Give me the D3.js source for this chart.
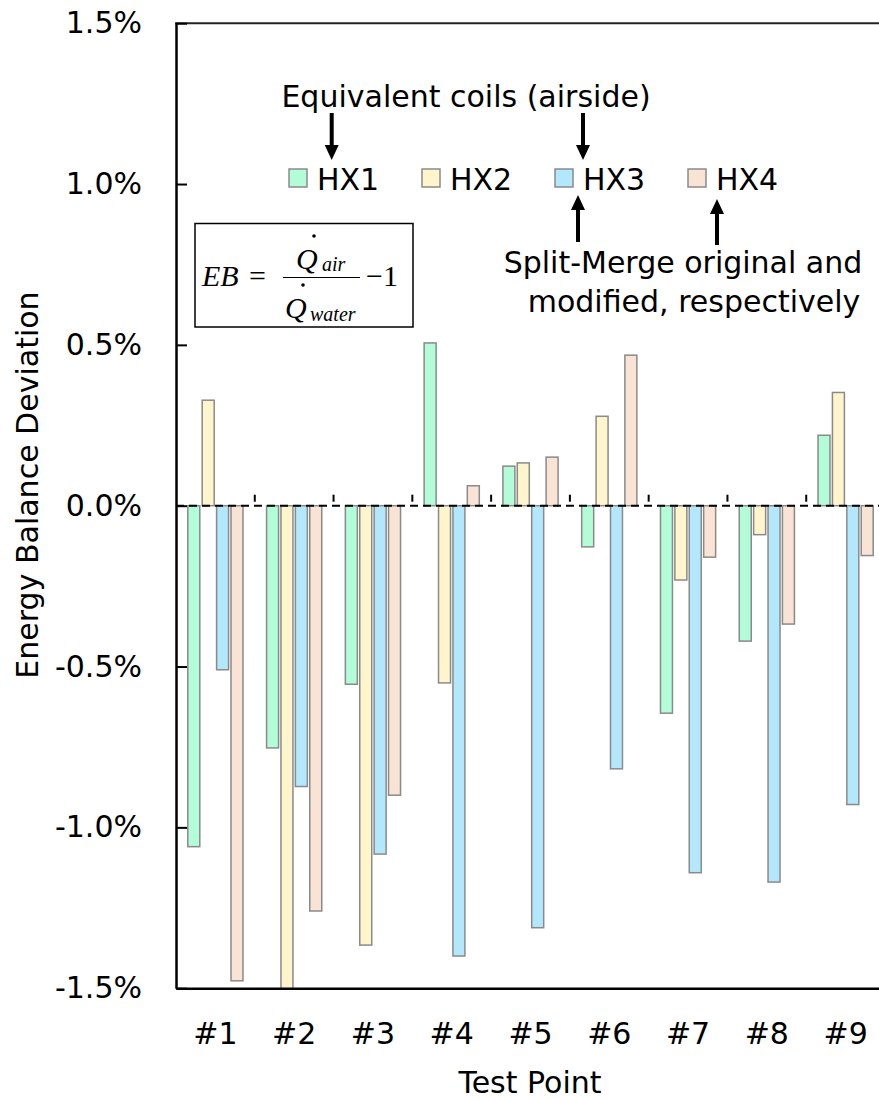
<!DOCTYPE html>
<html>
<head>
<meta charset="utf-8">
<script src="https://cdn.jsdelivr.net/npm/d3@7"></script>
<style>
  body { margin: 0; background: #fff; }
  svg text { fill: #000; }
</style>
</head>
<body>
<svg id="chart" width="879" height="1100"></svg>
<script>
// data (percent)
const testPoints = ["#1", "#2", "#3", "#4", "#5", "#6", "#7", "#8", "#9"];
const seriesNames = ["HX1", "HX2", "HX3", "HX4"];
const hx1 = [-1.060, -0.753, -0.555, 0.506, 0.123, -0.128, -0.645, -0.421, 0.219];
const hx2 = [0.328, -1.52, -1.366, -0.551, 0.133, 0.278, -0.231, -0.090, 0.352];
const hx3 = [-0.510, -0.873, -1.083, -1.400, -1.312, -0.818, -1.141, -1.170, -0.929];
const hx4 = [-1.477, -1.260, -0.900, 0.062, 0.151, 0.468, -0.160, -0.368, -0.155];
const seriesColors = ["#b3fcd8", "#fff5cc", "#b3e7fb", "#f9e3d4"];
const yTickValues = [-1.5, -1.0, -0.5, 0.0, 0.5, 1.0, 1.5];
const yTickLabels = ["-1.5%", "-1.0%", "-0.5%", "0.0%", "0.5%", "1.0%", "1.5%"];

const allSeries = [hx1, hx2, hx3, hx4];

const sans = "'DejaVu Sans', 'Open Sans', sans-serif";
const serif = "'Liberation Serif', 'DejaVu Serif', serif";
const fs = "30px";

const plot = { left: 176, right: 885, top: 23.2, bottom: 988.2 };
const svg = d3.select("#chart");

const y = d3.scaleLinear()
  .domain([-1.5, 1.5])
  .range([plot.bottom, plot.top]);

const x0 = d3.scaleBand()
  .domain(testPoints)
  .range([plot.left, plot.right])
  .paddingInner(0)
  .paddingOuter(0);

const x1 = d3.scaleBand()
  .domain(seriesNames)
  .range([0, x0.bandwidth()])
  .paddingInner(0.167)
  .paddingOuter(0.82);

// clip for the plot area
svg.append("defs").append("clipPath").attr("id", "plotClip")
  .append("rect")
  .attr("x", plot.left).attr("y", plot.top)
  .attr("width", plot.right - plot.left)
  .attr("height", plot.bottom - plot.top);

// bars
const rows = [];
testPoints.forEach((tp, i) => {
  seriesNames.forEach((s, j) => {
    rows.push({ tp: tp, s: s, v: allSeries[j][i], c: seriesColors[j] });
  });
});

svg.append("g")
  .attr("clip-path", "url(#plotClip)")
  .selectAll("rect")
  .data(rows)
  .join("rect")
  .attr("x", d => x0(d.tp) + x1(d.s))
  .attr("y", d => y(Math.max(0, d.v)))
  .attr("width", x1.bandwidth())
  .attr("height", d => Math.abs(y(d.v) - y(0)))
  .attr("fill", d => d.c)
  .attr("stroke", "#8a8a8a")
  .attr("stroke-width", 1.5);

// zero line (category axis crossing at 0)
svg.append("line")
  .attr("x1", plot.left).attr("x2", plot.right)
  .attr("y1", y(0)).attr("y2", y(0))
  .attr("stroke", "#000")
  .attr("stroke-width", 2)
  .attr("stroke-dasharray", "8,5");

svg.append("g")
  .selectAll("line")
  .data(testPoints.slice(1))
  .join("line")
  .attr("x1", d => x0(d)).attr("x2", d => x0(d))
  .attr("y1", y(0) - 11).attr("y2", y(0) - 4)
  .attr("stroke", "#000")
  .attr("stroke-width", 2);

// top border
svg.append("line")
  .attr("x1", plot.left - 1).attr("x2", plot.right)
  .attr("y1", plot.top).attr("y2", plot.top)
  .attr("stroke", "#222")
  .attr("stroke-width", 2);

// y axis
const yAxis = svg.append("g")
  .attr("transform", "translate(" + plot.left + ",0)")
  .call(d3.axisLeft(y)
    .tickValues(yTickValues)
    .tickFormat((d, i) => yTickLabels[i])
    .tickSizeInner(-11)
    .tickSizeOuter(0)
    .tickPadding(34));
yAxis.select(".domain").attr("stroke-width", 2.5);
yAxis.selectAll(".tick line").attr("stroke-width", 2);
yAxis.selectAll("text").attr("font-family", sans).style("font-size", fs);

// x axis
const xAxis = svg.append("g")
  .attr("transform", "translate(0," + plot.bottom + ")")
  .call(d3.axisBottom(x0).tickSize(0).tickPadding(35));
xAxis.select(".domain").attr("stroke-width", 2.5);
xAxis.selectAll("text").attr("font-family", sans).style("font-size", fs);

// axis titles
svg.append("text")
  .attr("x", 530).attr("y", 1093)
  .attr("text-anchor", "middle")
  .attr("font-family", sans).style("font-size", fs)
  .text("Test Point");

svg.append("text")
  .attr("transform", "translate(38,485) rotate(-90)")
  .attr("text-anchor", "middle")
  .attr("font-family", sans).style("font-size", fs)
  .text("Energy Balance Deviation");

// legend
const legendX = d3.scaleOrdinal().domain(seriesNames).range([289, 422, 555, 688]);
const legend = svg.append("g");
seriesNames.forEach((s, j) => {
  legend.append("rect")
    .attr("x", legendX(s)).attr("y", 169)
    .attr("width", 18).attr("height", 18)
    .attr("fill", seriesColors[j])
    .attr("stroke", "#8a8a8a")
    .attr("stroke-width", 1.5);
  legend.append("text")
    .attr("x", legendX(s) + 28).attr("y", 190)
    .attr("font-family", sans).style("font-size", fs)
    .text(s);
});

// annotations
svg.append("text")
  .attr("x", 466).attr("y", 107)
  .attr("text-anchor", "middle")
  .attr("font-family", sans).style("font-size", fs)
  .text("Equivalent coils (airside)");

svg.append("text")
  .attr("x", 683).attr("y", 273)
  .attr("text-anchor", "middle")
  .attr("font-family", sans).style("font-size", fs)
  .text("Split-Merge original and");

svg.append("text")
  .attr("x", 694).attr("y", 312)
  .attr("text-anchor", "middle")
  .attr("font-family", sans).style("font-size", fs)
  .text("modified, respectively");

function arrow(xc, yTail, yTip) {
  const dir = yTip > yTail ? 1 : -1;
  const headLen = 15, headW = 7;
  const yBase = yTip - dir * headLen;
  svg.append("line")
    .attr("x1", xc).attr("x2", xc)
    .attr("y1", yTail).attr("y2", yBase)
    .attr("stroke", "#000").attr("stroke-width", 4);
  svg.append("path")
    .attr("d", "M" + (xc - headW) + "," + yBase + "L" + (xc + headW) + "," + yBase + "L" + xc + "," + yTip + "Z")
    .attr("fill", "#000");
}
arrow(331.7, 113, 160);
arrow(583, 113, 160);
arrow(578, 242, 195);
arrow(717, 245, 199);

// equation box
const eq = svg.append("g");
eq.append("rect")
  .attr("x", 195).attr("y", 223.5)
  .attr("width", 218).attr("height", 103.5)
  .attr("fill", "none")
  .attr("stroke", "#000")
  .attr("stroke-width", 1.5);
function eqText(x, yb, size, italic, str) {
  eq.append("text").attr("x", x).attr("y", yb)
    .attr("font-family", serif)
    .attr("font-style", italic ? "italic" : "normal")
    .style("font-size", size + "px")
    .text(str);
}
eqText(202, 286, 30, true, "EB");
eqText(249, 286, 30, false, "=");
eq.append("line")
  .attr("x1", 283).attr("x2", 360)
  .attr("y1", 277.5).attr("y2", 277.5)
  .attr("stroke", "#000").attr("stroke-width", 1.2);
eqText(296, 269, 30, true, "Q");
eqText(322, 271, 20, true, "air");
eq.append("circle").attr("cx", 314).attr("cy", 236).attr("r", 1.8).attr("fill", "#000");
eqText(285, 318, 30, true, "Q");
eqText(310, 321, 20, true, "water");
eq.append("circle").attr("cx", 303).attr("cy", 285).attr("r", 1.8).attr("fill", "#000");
eqText(366, 286, 30, false, "\u22121");
</script>
</body>
</html>
